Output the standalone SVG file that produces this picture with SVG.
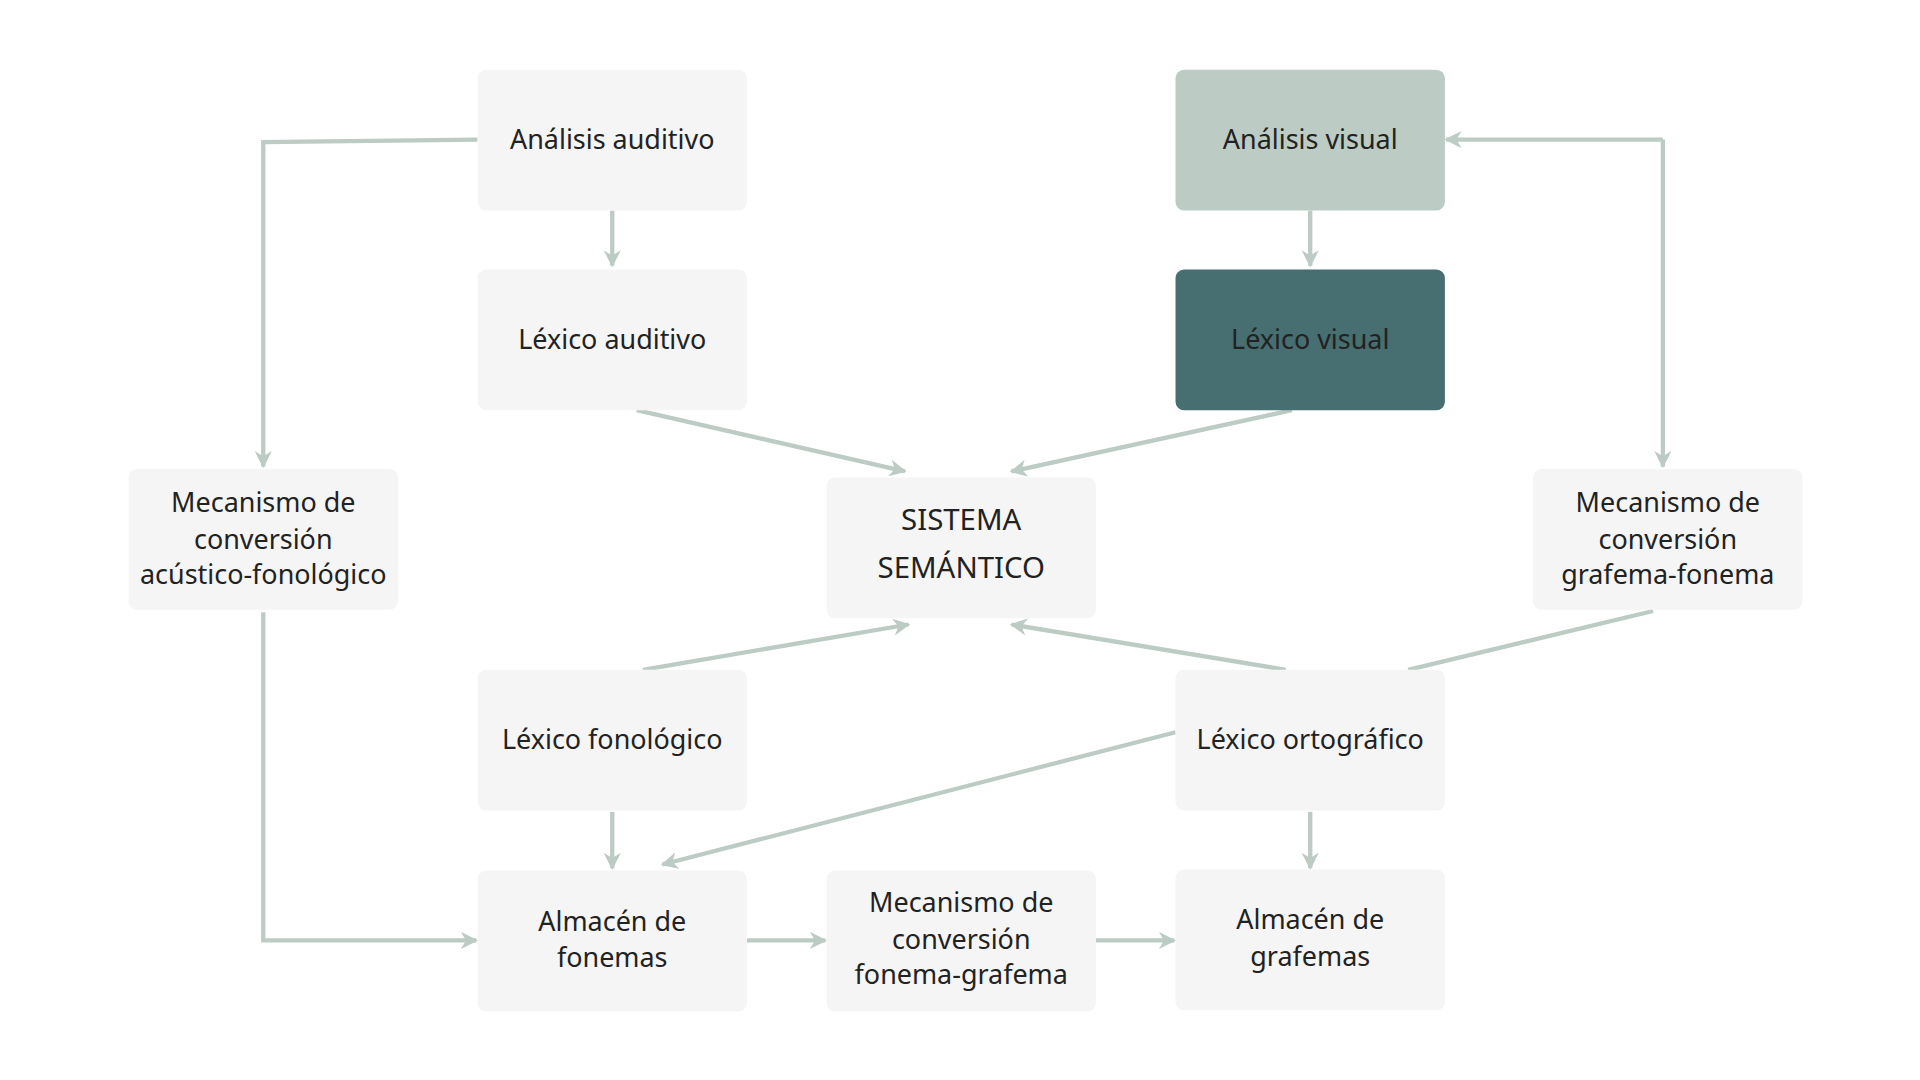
<svg xmlns="http://www.w3.org/2000/svg" width="1920" height="1080" viewBox="0 0 1920 1080">
<style>
.n{fill:#f5f5f5}
.t{font-family:"Noto Sans","Open Sans",sans-serif;font-size:22px;fill:#222;text-anchor:middle}
.c{fill:none;stroke:#bccbc3;stroke-width:3.5}
.a{marker-end:url(#ah)}
</style>
<defs><marker id="ah" viewBox="0 0 10 10" refX="9" refY="5" markerWidth="4" markerHeight="4" orient="auto" markerUnits="strokeWidth"><path d="M0,0 L10,5 L0,10 L3,5 z" fill="#bccbc3"/></marker></defs>
<rect width="1920" height="1080" fill="#fff"/>
<g transform="scale(1.2245)">
<g id="connectors">
<path class="c a" d="M390,114 L215,116 L215,381"/>
<path class="c a" d="M500,172 L500,217"/>
<path class="c a" d="M520,335 L739,385"/>
<path class="c a" d="M1055,335 L826,385"/>
<path class="c a" d="M1358,114 L1358,381"/>
<path class="c a" d="M1358,114 L1181,114"/>
<path class="c a" d="M1070,172 L1070,217"/>
<path class="c a" d="M215,500 L215,768 L389,768"/>
<path class="c a" d="M525,547 L742,510"/>
<path class="c a" d="M1050,547 L826,510"/>
<path class="c" d="M1350,499 L1150,547"/>
<path class="c a" d="M960,598 L541,706"/>
<path class="c a" d="M500,663 L500,709"/>
<path class="c a" d="M1070,663 L1070,709"/>
<path class="c a" d="M610,768 L674,768"/>
<path class="c a" d="M895,768 L959,768"/>
</g>
<g id="n1"><rect class="n" x="390" y="57" width="220" height="115" rx="7"/><text class="t" x="500" y="122">Análisis auditivo</text></g>
<g id="n2"><rect class="n" x="390" y="220" width="220" height="115" rx="7"/><text class="t" x="500" y="285">Léxico auditivo</text></g>
<g id="n3"><rect x="960" y="57" width="220" height="115" rx="7" fill="#bccbc3"/><text class="t" x="1070" y="122">Análisis visual</text></g>
<g id="n4"><rect x="960" y="220" width="220" height="115" rx="7" fill="#476e70"/><text class="t" x="1070" y="285">Léxico visual</text></g>
<g id="n5"><rect class="n" x="105" y="383" width="220" height="115" rx="7"/><text class="t" x="215" y="418">Mecanismo de</text><text class="t" x="215" y="448">conversión</text><text class="t" x="215" y="477">acústico-fonológico</text></g>
<g id="n6"><rect class="n" x="675" y="390" width="220" height="115" rx="7"/><text class="t" x="785" y="433" style="font-size:24px">SISTEMA</text><text class="t" x="785" y="472" style="font-size:24px">SEMÁNTICO</text></g>
<g id="n7"><rect class="n" x="1252" y="383" width="220" height="115" rx="7"/><text class="t" x="1362" y="418">Mecanismo de</text><text class="t" x="1362" y="448">conversión</text><text class="t" x="1362" y="477">grafema-fonema</text></g>
<g id="n8"><rect class="n" x="390" y="547" width="220" height="115" rx="7"/><text class="t" x="500" y="612">Léxico fonológico</text></g>
<g id="n9"><rect class="n" x="960" y="547" width="220" height="115" rx="7"/><text class="t" x="1070" y="612">Léxico ortográfico</text></g>
<g id="n10"><rect class="n" x="390" y="711" width="220" height="115" rx="7"/><text class="t" x="500" y="760">Almacén de</text><text class="t" x="500" y="790">fonemas</text></g>
<g id="n11"><rect class="n" x="675" y="711" width="220" height="115" rx="7"/><text class="t" x="785" y="745">Mecanismo de</text><text class="t" x="785" y="775">conversión</text><text class="t" x="785" y="804">fonema-grafema</text></g>
<g id="n12"><rect class="n" x="960" y="710" width="220" height="115" rx="7"/><text class="t" x="1070" y="759">Almacén de</text><text class="t" x="1070" y="789">grafemas</text></g>
</g>
</svg>
